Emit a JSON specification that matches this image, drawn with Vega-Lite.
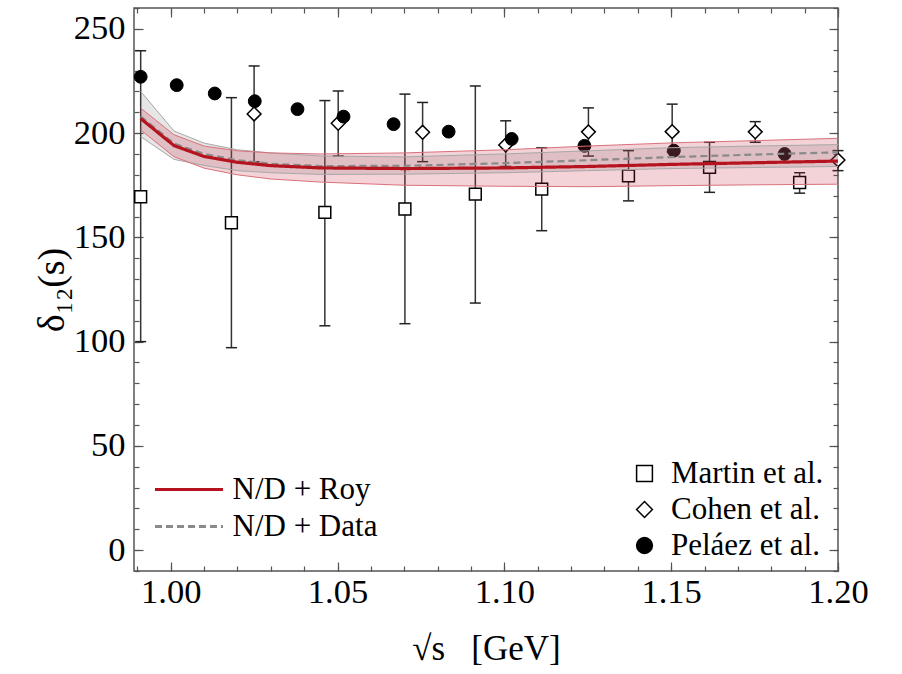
{
  "$schema": "https://vega.github.io/schema/vega-lite/v6.json",
  "width": 704,
  "height": 563,
  "autosize": {"type": "none"},
  "padding": {"left": 134, "top": 8, "right": 64, "bottom": 103},
  "background": "white",
  "config": {
    "view": {"stroke": "#555555", "strokeWidth": 1.5},
    "font": "Liberation Serif, Times New Roman, serif",
    "axis": {
      "grid": false,
      "domain": false,
      "labelFont": "Liberation Serif, Times New Roman, serif",
      "labelFontSize": 34.5,
      "labelColor": "black",
      "tickColor": "#555555",
      "tickWidth": 1.2,
      "titleFont": "Liberation Serif, Times New Roman, serif",
      "titleFontWeight": "normal",
      "titleColor": "black",
      "titleFontSize": 35,
      "labelFlush": false,
      "labelOverlap": false
    }
  },
  "datasets": {
    "obs": [
      {"src": "Martin et al.", "x": 0.991, "y": 169.5, "lo": 100, "hi": 239.5},
      {"src": "Martin et al.", "x": 1.0182, "y": 157, "lo": 97.1, "hi": 217},
      {"src": "Martin et al.", "x": 1.0462, "y": 162, "lo": 107.6, "hi": 215.6},
      {"src": "Martin et al.", "x": 1.0702, "y": 163.6, "lo": 108.6, "hi": 218.7},
      {"src": "Martin et al.", "x": 1.0913, "y": 170.7, "lo": 118.5, "hi": 222.6},
      {"src": "Martin et al.", "x": 1.1112, "y": 173.1, "lo": 153.2, "hi": 193},
      {"src": "Martin et al.", "x": 1.1372, "y": 179.5, "lo": 167.5, "hi": 191.6},
      {"src": "Martin et al.", "x": 1.1615, "y": 183.6, "lo": 171.6, "hi": 195.6},
      {"src": "Martin et al.", "x": 1.1885, "y": 176.3, "lo": 171.2, "hi": 181},
      {"src": "Cohen et al.", "x": 1.025, "y": 209.2, "lo": 186.2, "hi": 232.2},
      {"src": "Cohen et al.", "x": 1.0502, "y": 204.7, "lo": 189, "hi": 220.2},
      {"src": "Cohen et al.", "x": 1.0755, "y": 200.4, "lo": 186.3, "hi": 214.7},
      {"src": "Cohen et al.", "x": 1.1004, "y": 194.3, "lo": 184, "hi": 205.9},
      {"src": "Cohen et al.", "x": 1.1252, "y": 200.6, "lo": 189, "hi": 212.1},
      {"src": "Cohen et al.", "x": 1.1503, "y": 200.7, "lo": 191, "hi": 213.9},
      {"src": "Cohen et al.", "x": 1.1752, "y": 200.6, "lo": 195.6, "hi": 205.5},
      {"src": "Cohen et al.", "x": 1.2, "y": 187.1, "lo": 182, "hi": 191.6},
      {"src": "Peláez et al.", "x": 0.991, "y": 227},
      {"src": "Peláez et al.", "x": 1.0018, "y": 223},
      {"src": "Peláez et al.", "x": 1.0132, "y": 219},
      {"src": "Peláez et al.", "x": 1.0252, "y": 215.3},
      {"src": "Peláez et al.", "x": 1.038, "y": 211.5},
      {"src": "Peláez et al.", "x": 1.0518, "y": 207.9},
      {"src": "Peláez et al.", "x": 1.0668, "y": 204.3},
      {"src": "Peláez et al.", "x": 1.0833, "y": 200.7},
      {"src": "Peláez et al.", "x": 1.1022, "y": 197.2},
      {"src": "Peláez et al.", "x": 1.124, "y": 193.9},
      {"src": "Peláez et al.", "x": 1.1508, "y": 191.6},
      {"src": "Peláez et al.", "x": 1.184, "y": 190}
    ],
    "curves": [
      {"x": 0.991, "roy": 207, "roy_lo": 201.5, "roy_hi": 212, "dat": 208, "dat_lo": 198.3, "dat_hi": 220},
      {"x": 1.001, "roy": 194, "roy_lo": 188.7, "roy_hi": 199.2, "dat": 195, "dat_lo": 187.4, "dat_hi": 201},
      {"x": 1.01, "roy": 188.8, "roy_lo": 183.2, "roy_hi": 193.8, "dat": 190, "dat_lo": 184.5, "dat_hi": 195.2},
      {"x": 1.02, "roy": 186, "roy_lo": 180, "roy_hi": 191.5, "dat": 187, "dat_lo": 182, "dat_hi": 192},
      {"x": 1.03, "roy": 184.4, "roy_lo": 178, "roy_hi": 190.5, "dat": 185.3, "dat_lo": 181, "dat_hi": 190.5},
      {"x": 1.045, "roy": 183.3, "roy_lo": 176.5, "roy_hi": 190, "dat": 184.2, "dat_lo": 180.2, "dat_hi": 189},
      {"x": 1.07, "roy": 183, "roy_lo": 175, "roy_hi": 190.5, "dat": 184.3, "dat_lo": 180.3, "dat_hi": 188.6},
      {"x": 1.1, "roy": 183.3, "roy_lo": 174.5, "roy_hi": 192, "dat": 185.6, "dat_lo": 181, "dat_hi": 190},
      {"x": 1.125, "roy": 184, "roy_lo": 174.3, "roy_hi": 193.8, "dat": 187, "dat_lo": 182, "dat_hi": 191.5},
      {"x": 1.15, "roy": 185, "roy_lo": 174.8, "roy_hi": 195.3, "dat": 188.5, "dat_lo": 183, "dat_hi": 193},
      {"x": 1.175, "roy": 185.8, "roy_lo": 175.2, "roy_hi": 196.4, "dat": 189.7, "dat_lo": 183.5, "dat_hi": 193.8},
      {"x": 1.2, "roy": 186.6, "roy_lo": 175.5, "roy_hi": 197.5, "dat": 190.8, "dat_lo": 184, "dat_hi": 194.5}
    ]
  },
  "layer": [
    {
      "data": {"name": "obs"},
      "transform": [{"filter": "isValid(datum.hi)"}],
      "mark": {"type": "rule", "color": "#333333", "strokeWidth": 1.5},
      "encoding": {
        "x": {"field": "x", "type": "quantitative", "scale": {"domain": [0.989, 1.2], "nice": false, "zero": false},
              "axis": {"orient": "bottom", "ticks": false, "labelPadding": 4, "values": [1.0, 1.05, 1.1, 1.15, 1.2], "format": ".2f", "title": "√s\u00a0\u00a0\u00a0[GeV]", "titlePadding": 23}},
        "y": {"field": "lo", "type": "quantitative", "scale": {"domain": [-10, 260], "nice": false, "zero": false},
              "axis": {"orient": "left", "ticks": false, "labelPadding": 9, "values": [0, 50, 100, 150, 200, 250], "title": "δ₁₂(s)", "titleFontSize": 38, "titlePadding": 2}},
        "y2": {"field": "hi"}
      }
    },
    {
      "data": {"name": "obs"},
      "transform": [{"filter": "isValid(datum.hi)"}],
      "mark": {"type": "tick", "orient": "horizontal", "size": 11, "thickness": 1.5, "color": "#222222", "opacity": 1},
      "encoding": {
        "x": {"field": "x", "type": "quantitative", "scale": {"domain": [0.989, 1.2], "nice": false, "zero": false},
              "axis": {"orient": "bottom", "labels": false, "tickSize": -9, "values": [1.0, 1.05, 1.1, 1.15, 1.2], "title": null}},
        "y": {"field": "hi", "type": "quantitative", "scale": {"domain": [-10, 260], "nice": false, "zero": false},
              "axis": {"orient": "left", "labels": false, "tickSize": -9, "values": [0, 50, 100, 150, 200, 250], "title": null}}
      }
    },
    {
      "data": {"name": "obs"},
      "transform": [{"filter": "isValid(datum.hi)"}],
      "mark": {"type": "tick", "orient": "horizontal", "size": 11, "thickness": 1.5, "color": "#222222", "opacity": 1},
      "encoding": {
        "x": {"field": "x", "type": "quantitative", "scale": {"domain": [0.989, 1.2], "nice": false, "zero": false},
              "axis": {"orient": "bottom", "labels": false, "tickSize": -5, "values": [0.99, 1.0, 1.01, 1.02, 1.03, 1.04, 1.05, 1.06, 1.07, 1.08, 1.09, 1.1, 1.11, 1.12, 1.13, 1.14, 1.15, 1.16, 1.17, 1.18, 1.19, 1.2], "title": null}},
        "y": {"field": "lo", "type": "quantitative", "scale": {"domain": [-10, 260], "nice": false, "zero": false},
              "axis": {"orient": "left", "labels": false, "tickSize": -5, "values": [-10, 0, 10, 20, 30, 40, 50, 60, 70, 80, 90, 100, 110, 120, 130, 140, 150, 160, 170, 180, 190, 200, 210, 220, 230, 240, 250, 260], "title": null}}
      }
    },
    {
      "data": {"name": "obs"},
      "transform": [{"filter": "datum.src === 'Martin et al.'"}],
      "mark": {"type": "point", "filled": true, "stroke": "black", "strokeWidth": 1.5, "opacity": 1, "size": 140},
      "encoding": {
        "x": {"field": "x", "type": "quantitative", "scale": {"domain": [0.989, 1.2], "nice": false, "zero": false},
              "axis": {"orient": "top", "labels": false, "tickSize": -9, "values": [1.0, 1.05, 1.1, 1.15, 1.2], "title": null}},
        "y": {"field": "y", "type": "quantitative", "scale": {"domain": [-10, 260], "nice": false, "zero": false},
              "axis": {"orient": "right", "labels": false, "tickSize": -9, "values": [0, 50, 100, 150, 200, 250], "title": null}},
        "shape": {"datum": "Martin et al.", "scale": {"domain": ["Martin et al.", "Cohen et al.", "Peláez et al."], "range": ["square", "diamond", "circle"]},
                  "legend": {"orient": "none", "legendX": 495, "legendY": 450, "title": null, "symbolSize": 250, "labelFont": "Liberation Serif, Times New Roman, serif", "labelFontSize": 31, "labelColor": "black", "labelOffset": 11, "rowPadding": 4, "padding": 0, "symbolOpacity": 1,
                             "encode": {"symbols": {"update": {"stroke": {"value": "black"}, "strokeWidth": {"value": 1.5}}}}}},
        "fill": {"datum": "Martin et al.", "scale": {"domain": ["Martin et al.", "Cohen et al.", "Peláez et al."], "range": ["white", "white", "black"]},
                 "legend": {"orient": "none", "legendX": 495, "legendY": 450, "title": null, "symbolSize": 250, "labelFont": "Liberation Serif, Times New Roman, serif", "labelFontSize": 31, "labelColor": "black", "labelOffset": 11, "rowPadding": 4, "padding": 0, "symbolOpacity": 1,
                             "encode": {"symbols": {"update": {"stroke": {"value": "black"}, "strokeWidth": {"value": 1.5}}}}}}
      }
    },
    {
      "data": {"name": "obs"},
      "transform": [{"filter": "datum.src === 'Cohen et al.'"}],
      "mark": {"type": "point", "filled": true, "stroke": "black", "strokeWidth": 1.5, "opacity": 1, "size": 190},
      "encoding": {
        "x": {"field": "x", "type": "quantitative", "scale": {"domain": [0.989, 1.2], "nice": false, "zero": false},
              "axis": {"orient": "top", "labels": false, "tickSize": -5, "values": [0.99, 1.0, 1.01, 1.02, 1.03, 1.04, 1.05, 1.06, 1.07, 1.08, 1.09, 1.1, 1.11, 1.12, 1.13, 1.14, 1.15, 1.16, 1.17, 1.18, 1.19, 1.2], "title": null}},
        "y": {"field": "y", "type": "quantitative", "scale": {"domain": [-10, 260], "nice": false, "zero": false},
              "axis": {"orient": "right", "labels": false, "tickSize": -5, "values": [-10, 0, 10, 20, 30, 40, 50, 60, 70, 80, 90, 100, 110, 120, 130, 140, 150, 160, 170, 180, 190, 200, 210, 220, 230, 240, 250, 260], "title": null}},
        "shape": {"datum": "Cohen et al."},
        "fill": {"datum": "Cohen et al."}
      }
    },
    {
      "data": {"name": "obs"},
      "transform": [{"filter": "datum.src === 'Peláez et al.'"}],
      "mark": {"type": "point", "filled": true, "stroke": "black", "strokeWidth": 1, "opacity": 1, "size": 165},
      "encoding": {
        "x": {"field": "x", "type": "quantitative", "axis": null},
        "y": {"field": "y", "type": "quantitative", "axis": null},
        "shape": {"datum": "Peláez et al."},
        "fill": {"datum": "Peláez et al."}
      }
    },
    {
      "data": {"name": "curves"},
      "mark": {"type": "area", "color": "#808080", "opacity": 0.2},
      "encoding": {
        "x": {"field": "x", "type": "quantitative", "axis": null},
        "y": {"field": "dat_lo", "type": "quantitative", "axis": null},
        "y2": {"field": "dat_hi"}
      }
    },
    {
      "data": {"name": "curves"},
      "mark": {"type": "area", "color": "#c41e3a", "opacity": 0.2},
      "encoding": {
        "x": {"field": "x", "type": "quantitative", "axis": null},
        "y": {"field": "roy_lo", "type": "quantitative", "axis": null},
        "y2": {"field": "roy_hi"}
      }
    },
    {
      "data": {"name": "curves"},
      "mark": {"type": "line", "color": "#a8a8a8", "strokeWidth": 1},
      "encoding": {
        "x": {"field": "x", "type": "quantitative", "axis": null},
        "y": {"field": "dat_lo", "type": "quantitative", "axis": null}
      }
    },
    {
      "data": {"name": "curves"},
      "mark": {"type": "line", "color": "#a8a8a8", "strokeWidth": 1},
      "encoding": {
        "x": {"field": "x", "type": "quantitative", "axis": null},
        "y": {"field": "dat_hi", "type": "quantitative", "axis": null}
      }
    },
    {
      "data": {"name": "curves"},
      "mark": {"type": "line", "color": "#d9727b", "strokeWidth": 1},
      "encoding": {
        "x": {"field": "x", "type": "quantitative", "axis": null},
        "y": {"field": "roy_lo", "type": "quantitative", "axis": null}
      }
    },
    {
      "data": {"name": "curves"},
      "mark": {"type": "line", "color": "#d9727b", "strokeWidth": 1},
      "encoding": {
        "x": {"field": "x", "type": "quantitative", "axis": null},
        "y": {"field": "roy_hi", "type": "quantitative", "axis": null}
      }
    },
    {
      "data": {"name": "curves"},
      "mark": {"type": "line", "strokeWidth": 2.2},
      "encoding": {
        "x": {"field": "x", "type": "quantitative", "axis": null},
        "y": {"field": "dat", "type": "quantitative", "axis": null},
        "color": {"datum": "N/D + Data"},
        "strokeDash": {"datum": "N/D + Data"}
      }
    },
    {
      "data": {"name": "curves"},
      "mark": {"type": "line", "strokeWidth": 3.2},
      "encoding": {
        "x": {"field": "x", "type": "quantitative", "axis": null},
        "y": {"field": "roy", "type": "quantitative", "axis": null},
        "color": {"datum": "N/D + Roy", "scale": {"domain": ["N/D + Roy", "N/D + Data"], "range": ["#b5141e", "#8a8a8a"]},
                  "legend": {"orient": "none", "legendX": 5.5, "legendY": 466, "title": null, "symbolType": "M0,0H8", "symbolSize": 289, "symbolStrokeWidth": 3, "labelFont": "Liberation Serif, Times New Roman, serif", "labelFontSize": 31, "labelColor": "black", "labelOffset": 62, "rowPadding": 5, "padding": 0}},
        "strokeDash": {"datum": "N/D + Roy", "scale": {"domain": ["N/D + Roy", "N/D + Data"], "range": [[1, 0], [7, 4]]},
                  "legend": {"orient": "none", "legendX": 5.5, "legendY": 466, "title": null, "symbolType": "M0,0H8", "symbolSize": 289, "symbolStrokeWidth": 3, "labelFont": "Liberation Serif, Times New Roman, serif", "labelFontSize": 31, "labelColor": "black", "labelOffset": 62, "rowPadding": 5, "padding": 0}}
      }
    }
  ],
  "resolve": {"axis": {"x": "independent", "y": "independent"}}
}
